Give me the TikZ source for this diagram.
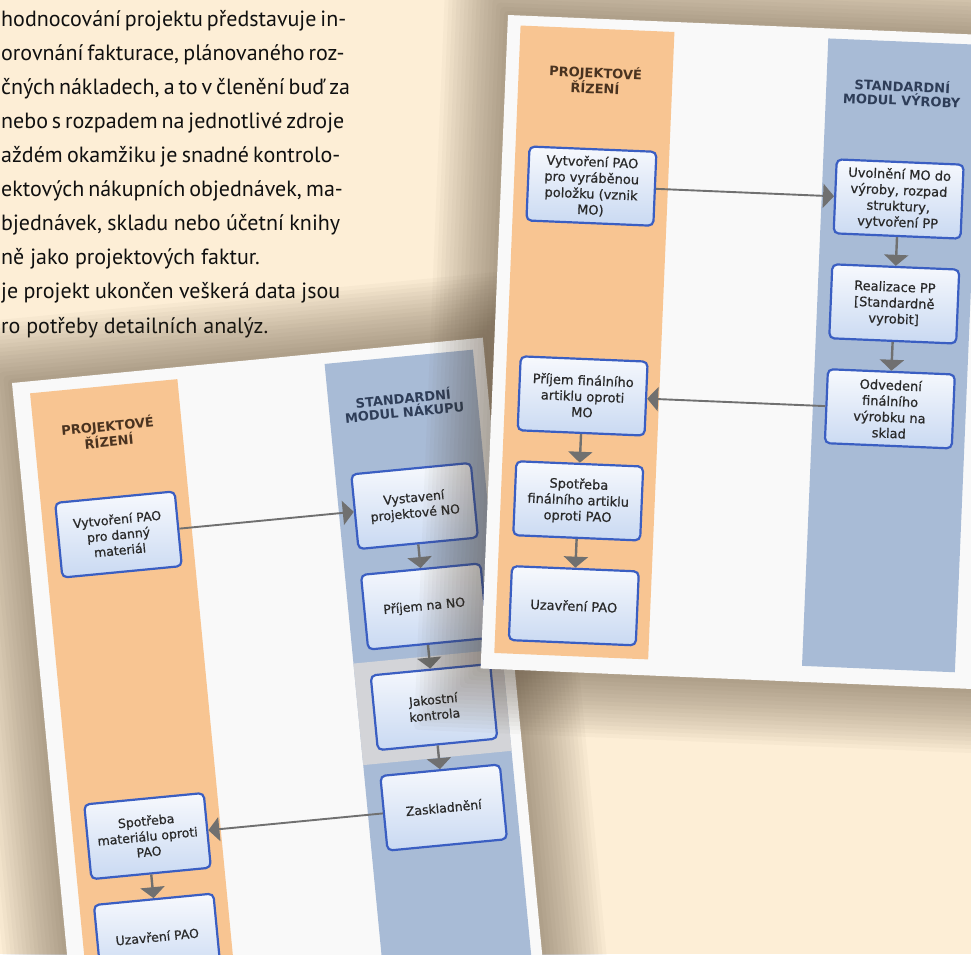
\documentclass[tikz,border=0pt]{standalone}
\usepackage{fontspec}
\setmainfont{PT Sans}
\newfontfamily\boxfont{DejaVu Sans}[FakeBold=0.6]
\newfontfamily\headfont{DejaVu Sans Bold}
\usetikzlibrary{arrows.meta}
\definecolor{bg}{HTML}{FDEED6}
\definecolor{shad}{HTML}{4A3A28}
\definecolor{cardw}{HTML}{F9F9F9}
\definecolor{lorange}{HTML}{F8C592}
\definecolor{lblue}{HTML}{A8BBD6}
\definecolor{lgray}{HTML}{D3D4D8}
\definecolor{bxborder}{HTML}{3A5EC2}
\definecolor{bxtop}{HTML}{F7F9FD}
\definecolor{bxbot}{HTML}{C9D9F2}
\definecolor{arrgray}{HTML}{707070}
\definecolor{txt}{HTML}{101010}
\definecolor{boxtxt}{HTML}{2A2A2A}
\definecolor{headbrown}{HTML}{4A3320}
\definecolor{headblue}{HTML}{2E3D58}
\tikzset{
  para/.style={anchor=base west, inner sep=0pt, font=\fontsize{22}{25}\selectfont, text=txt},
  boxA/.style={draw=bxborder, line width=2.2pt, rounded corners=5pt, top color=bxtop, bottom color=bxbot,
    minimum width=127pt, minimum height=74pt, align=center, inner sep=2pt,
    font=\boxfont\fontsize{13}{16}\selectfont, text=boxtxt},
  boxB/.style={boxA, minimum width=120pt, minimum height=75pt, font=\boxfont\fontsize{12.5}{15.5}\selectfont},
  flow/.style={-{Triangle[length=11pt,width=24pt]}, draw=arrgray, line width=2.4pt},
  hflow/.style={flow, line width=1.9pt},
  headO/.style={align=center, font=\headfont\fontsize{13}{14}\selectfont, text=headbrown},
  headB/.style={align=center, font=\headfont\fontsize{13}{14}\selectfont, text=headblue}
}
\begin{document}
\begin{tikzpicture}[x=1pt,y=-1pt]
\useasboundingbox (0,0) rectangle (971,954);
\clip (0,0) rectangle (971,954);
\fill[bg] (0,0) rectangle (971,954);

% paragraph text (cut at the left edge)
\node[para] (t1) at (1,26) {\makebox[339pt][s]{hodnocování projektu představuje in-}};
\node[para] (t2) at (1,60) {\makebox[339pt][s]{orovnání fakturace, plánovaného roz-}};
\node[para] (t3) at (1,94) {\makebox[339pt][s]{čných nákladech, a to v členění buď za}};
\node[para] (t4) at (1,128) {\makebox[339pt][s]{nebo s rozpadem na jednotlivé zdroje}};
\node[para] (t5) at (1,162) {\makebox[339pt][s]{aždém okamžiku je snadné kontrolo-}};
\node[para] (t6) at (1,196.5) {\makebox[339pt][s]{ektových nákupních objednávek, ma-}};
\node[para] (t7) at (1,230.5) {\makebox[339pt][s]{bjednávek, skladu nebo účetní knihy}};
\node[para] (t8) at (1,264.5) {ně jako projektových faktur.};
\node[para] (t9) at (1,298.5) {\makebox[339pt][s]{je projekt ukončen veškerá data jsou}};
\node[para] (t10) at (1,333) {ro potřeby detailních analýz.};

% ---------------- card B (purchase) ----------------
\begin{scope}[shift={(12,383)}, rotate=5.5, transform shape]
  \foreach \k in {1,...,16}{
    \fill[shad,opacity=0.033,rounded corners=4pt] ({-4*\k},{-4*\k}) rectangle ({473+4*\k},{720+4*\k});
  }
  \fill[cardw] (0,0) rectangle (473,720);
  \fill[lorange] (17,12) rectangle (165,720);
  \fill[lblue] (313,11) rectangle (462,720);
  \fill[lgray] (313,312) rectangle (462,414);
  \node[headO] (bho) at (91,59) {PROJEKTOVÉ\\ŘÍZENÍ};
  \node[headB] (bhb) at (388,59) {STANDARDNÍ\\MODUL NÁKUPU};
  \node[boxB] (b1) at (91.5,161) {Vytvoření PAO\\pro danný\\materiál};
  \node[boxB] (b2) at (389,161) {Vystavení\\projektové NO};
  \node[boxB] (b3) at (389,262) {Příjem na NO};
  \node[boxB] (b4) at (389,363) {Jakostní\\kontrola};
  \node[boxB] (b5) at (389,464) {Zaskladnění};
  \node[boxB] (b6) at (91.5,464) {Spotřeba\\materiálu oproti\\PAO};
  \node[boxB] (b7) at (91.5,565) {Uzavření PAO};
  \draw[hflow] (b1.east) -- (b2.west);
  \draw[flow] (b2.south) -- (b3.north);
  \draw[flow] (b3.south) -- (b4.north);
  \draw[flow] (b4.south) -- (b5.north);
  \draw[hflow] (b5.west) -- (b6.east);
  \draw[flow] (b6.south) -- (b7.north);
\end{scope}

% ---------------- card A (production) ----------------
\begin{scope}[shift={(508,15)}, rotate=-2.4, transform shape]
  \foreach \k in {1,...,16}{
    \fill[shad,opacity=0.033,rounded corners=4pt] ({-4*\k},{-4*\k}) rectangle ({520+4*\k},{654+4*\k});
  }
  \fill[cardw] (0,0) rectangle (520,654);
  \fill[lorange] (13,10) rectangle (167,638);
  \fill[lblue] (321,10) rectangle (474,638);
  \node[headO] (aho) at (90,61) {PROJEKTOVÉ\\ŘÍZENÍ};
  \node[headB] (ahb) at (397,61) {STANDARDNÍ\\MODUL VÝROBY};
  \node[boxA] (a1) at (90.5,167.5) {Vytvoření PAO\\pro vyráběnou\\položku (vznik\\MO)};
  \node[boxA] (a2) at (398,167.5) {Uvolnění MO do\\výroby, rozpad\\struktury,\\vytvoření PP};
  \node[boxA] (a3) at (398,272.5) {Realizace PP\\{[}Standardně\\vyrobit{]}};
  \node[boxA] (a4) at (398,377.5) {Odvedení\\finálního\\výrobku na\\sklad};
  \node[boxA] (a5) at (90.5,377.5) {Příjem finálního\\artiklu oproti\\MO};
  \node[boxA] (a6) at (90.5,482.5) {Spotřeba\\finálního artiklu\\oproti PAO};
  \node[boxA] (a7) at (90.5,587.5) {Uzavření PAO};
  \draw[hflow] (a1.east) -- (a2.west);
  \draw[flow] (a2.south) -- (a3.north);
  \draw[flow] (a3.south) -- (a4.north);
  \draw[hflow] (a4.west) -- (a5.east);
  \draw[flow] (a5.south) -- (a6.north);
  \draw[flow] (a6.south) -- (a7.north);
\end{scope}
\end{tikzpicture}
\end{document}
